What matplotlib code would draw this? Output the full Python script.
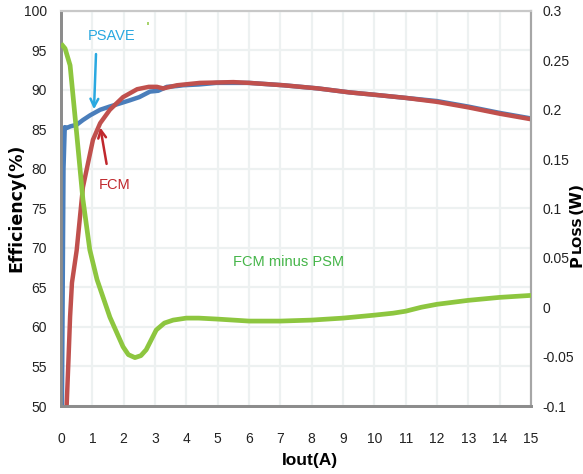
import matplotlib
matplotlib.use("Agg")
import matplotlib.pyplot as plt

# ---- data ----
psave_x = [0.03, 0.05, 0.08, 0.12, 0.19, 0.3, 0.5, 0.7, 0.93, 1.25, 1.55, 1.88, 2.2, 2.5, 2.84, 3.1, 3.38, 3.7, 3.9, 4.4, 4.96, 6.0, 7.1, 8.2, 9.2, 10.0, 11.0, 12.0, 13.0, 14.0, 15.0]
psave_y = [50.0, 62.0, 80.0, 85.3, 85.2, 85.4, 85.6, 86.2, 86.8, 87.5, 87.9, 88.3, 88.7, 89.1, 89.8, 89.9, 90.4, 90.5, 90.6, 90.7, 90.9, 90.9, 90.6, 90.2, 89.7, 89.4, 89.0, 88.6, 87.9, 87.1, 86.4]

fcm_x = [0.18, 0.24, 0.29, 0.35, 0.5, 0.7, 1.02, 1.25, 1.56, 1.98, 2.43, 2.8, 3.06, 3.26, 3.7, 4.43, 5.5, 6.0, 7.1, 8.2, 9.2, 10.0, 11.0, 12.0, 13.0, 14.0, 15.0]
fcm_y = [50.0, 56.0, 61.3, 65.6, 69.7, 77.7, 83.7, 85.8, 87.5, 89.1, 90.1, 90.4, 90.4, 90.2, 90.6, 90.9, 91.0, 90.9, 90.6, 90.2, 89.7, 89.4, 89.0, 88.5, 87.8, 87.0, 86.3]

diff_x = [0.0, 0.13, 0.29, 0.5, 0.7, 0.92, 1.15, 1.56, 1.98, 2.15, 2.36, 2.55, 2.72, 3.04, 3.3, 3.58, 4.0, 4.4, 5.0, 6.0, 7.0, 8.0, 9.0, 10.0, 10.6, 11.0, 11.5, 12.0, 13.0, 14.0, 15.0]
diff_y = [0.267, 0.262, 0.245, 0.176, 0.109, 0.058, 0.028, -0.010, -0.040, -0.048, -0.051, -0.049, -0.043, -0.023, -0.016, -0.013, -0.011, -0.011, -0.012, -0.014, -0.014, -0.013, -0.011, -0.008, -0.006, -0.004, 0.000, 0.003, 0.007, 0.010, 0.012]

x_ticks = list(range(0, 16))
eff_ticks = [50, 55, 60, 65, 70, 75, 80, 85, 90, 95, 100]
loss_ticks = [-0.1, -0.05, 0, 0.05, 0.1, 0.15, 0.2, 0.25, 0.3]
loss_labels = ["-0.1", "-0.05", "0", "0.05", "0.1", "0.15", "0.2", "0.25", "0.3"]

# ---- style ----
narrow = ["Liberation Sans Narrow", "Liberation Sans", "DejaVu Sans"]
blue = "#4a7ebb"
red = "#c0504d"
green = "#8dc63f"

fig = plt.figure(figsize=(5.83, 4.74), dpi=100)
ax = fig.add_axes([61 / 583, 1 - 406 / 474, 470 / 583, 395 / 474])
ax2 = ax.twinx()

ax.set_xlim(0, 15)
ax.set_ylim(50, 100)
ax2.set_ylim(-0.1, 0.3)

ax.set_xticks(x_ticks)
ax.set_yticks(eff_ticks)
ax2.set_yticks(loss_ticks)
ax2.set_yticklabels(loss_labels)

ax.grid(True, color="#edf1f1", lw=1.6)
ax.set_axisbelow(True)

for a in (ax, ax2):
    a.tick_params(length=0, labelsize=10)
    for lab in a.get_xticklabels() + a.get_yticklabels():
        lab.set_family(narrow)
        lab.set_color("#222222")
ax.tick_params(axis="x", pad=19)
ax.tick_params(axis="y", pad=10)
ax2.tick_params(axis="y", pad=8)

for a in (ax, ax2):
    a.spines["left"].set_color("#8c8c8c")
    a.spines["left"].set_linewidth(2)
    a.spines["bottom"].set_color("#8c8c8c")
    a.spines["bottom"].set_linewidth(2)
    a.spines["right"].set_color("#a6a6a6")
    a.spines["right"].set_linewidth(1.5)
    a.spines["top"].set_color("#c8c8c8")
    a.spines["top"].set_linewidth(1.5)

ax.plot(psave_x, psave_y, color=blue, lw=3.2, solid_joinstyle="round", solid_capstyle="butt", zorder=3)
ax.plot(fcm_x, fcm_y, color=red, lw=3.2, solid_joinstyle="round", solid_capstyle="butt", zorder=4)
ax2.plot(diff_x, diff_y, color=green, lw=3.4, solid_joinstyle="round", solid_capstyle="butt", zorder=3)

# annotations
ax.annotate("", xy=(1.05, 87.2), xytext=(1.12, 94.9),
            arrowprops=dict(arrowstyle="->", color="#29a8e0", lw=1.8, mutation_scale=14), zorder=6)
ax.text(1.6, 96.8, "PSAVE", color="#29a8e0", fontsize=10.5, family=narrow, ha="center", va="center")
ax.annotate("", xy=(1.24, 85.6), xytext=(1.47, 80.3),
            arrowprops=dict(arrowstyle="->", color="#c0282d", lw=1.8, mutation_scale=14), zorder=6)
ax.text(1.72, 78.0, "FCM", color="#c0282d", fontsize=10.5, family=narrow, ha="center", va="center")
ax.text(7.25, 68.2, "FCM minus PSM", color="#45b549", fontsize=10.5, family=narrow, ha="center", va="center")
ax.text(2.78, 97.9, "'", color=green, fontsize=9, ha="center", va="center", fontweight="bold")

# axis labels
fig.text(16 / 583, 1 - 208 / 474, "Efficiency(%)", rotation=90, fontsize=12.5, fontweight="bold",
         ha="center", va="center")
fig.text(310 / 583, 1 - 460 / 474, "Iout(A)", fontsize=12.5, fontweight="bold", family=narrow,
         ha="center", va="center")
fig.text(577 / 583, 1 - 261 / 474, "P", rotation=90, fontsize=11.5, fontweight="bold", ha="center", va="center")
fig.text(577 / 583, 1 - 234 / 474, "LOSS", rotation=90, fontsize=9.5, fontweight="bold", ha="center", va="center")
fig.text(576 / 583, 1 - 198 / 474, "(W)", rotation=90, fontsize=11.5, fontweight="bold", ha="center", va="center")

fig.savefig("out.png", dpi=100)
